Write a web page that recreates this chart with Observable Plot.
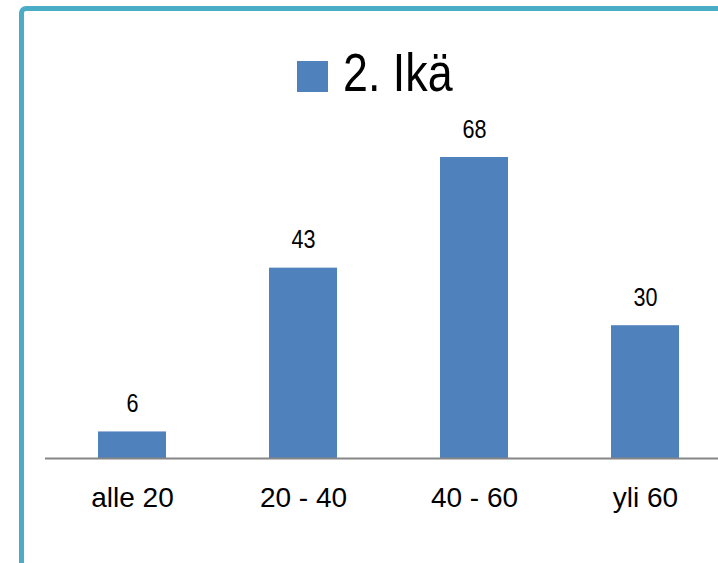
<!DOCTYPE html>
<html>
<head>
<meta charset="utf-8">
<script src="https://cdn.jsdelivr.net/npm/d3@7"></script>
<script src="https://cdn.jsdelivr.net/npm/@observablehq/plot@0.6"></script>
<style>
  html, body { margin: 0; padding: 0; background: #fff; overflow: hidden; }
  #page { position: relative; width: 718px; height: 563px; overflow: hidden; }
  #frame { position: absolute; left: 19px; top: 6px; width: 800px; height: 700px;
           border: 5px solid #4BACC6; border-radius: 7px; box-sizing: border-box; }
  #legend { position: absolute; left: 297px; top: 48px; height: 56px; display: flex; align-items: center;
            font-family: "Liberation Sans", Arial, sans-serif; font-size: 53px; color: #000; }
  #legend .sw { width: 31px; height: 31px; background: #4F81BD; margin-right: 15px; flex: none; }
  #ltext { display: inline-block; transform: scaleX(0.845); transform-origin: left center; position: relative; top: -4px; white-space: nowrap; }
  #chart { position: absolute; left: 0; top: 0; }
</style>
</head>
<body>
<div id="page">
  <div id="frame"></div>
  <div id="chart"></div>
  <div id="legend"><div class="sw"></div><span id="ltext"></span></div>
</div>
<script>
const seriesName = "2. Ikä";
const categories = ["alle 20", "20 - 40", "40 - 60", "yli 60"];
const values = [6, 43, 68, 30];

const data = categories.map((c, i) => ({cat: c, value: values[i]}));
document.getElementById("ltext").textContent = seriesName;

const plot = Plot.plot({
  width: 718,
  height: 563,
  marginLeft: 45,
  marginRight: 0,
  marginTop: 0,
  marginBottom: 0,
  style: {background: "transparent", overflow: "hidden"},
  x: {domain: categories, range: [45, 732], paddingInner: 0.6, paddingOuter: 0.3, axis: null},
  y: {domain: [0, 68], range: [458, 157], axis: null},
  marks: [
    Plot.barY(data, {x: "cat", y: "value", fill: "#4F81BD"}),
    Plot.ruleY([0], {stroke: "#868686", strokeWidth: 2}),
    Plot.text(data, {x: "cat", y: "value", text: d => String(d.value), dy: -28, className: "vlab",
      fontSize: 26, fill: "#000", fontFamily: "Liberation Sans, Arial, sans-serif"}),
    Plot.text(data, {x: "cat", y: 0, text: "cat", dy: 40,
      fontSize: 28, fill: "#000", fontFamily: "Liberation Sans, Arial, sans-serif"})
  ]
});
document.getElementById("chart").appendChild(plot);
// condense the value labels horizontally (narrow font look)
plot.querySelectorAll(".vlab text").forEach(t => {
  const tr = t.getAttribute("transform");
  if (tr) {
    t.setAttribute("transform", tr + " scale(0.83,1)");
  } else {
    const x = +t.getAttribute("x") || 0, y = +t.getAttribute("y") || 0;
    t.setAttribute("x", 0); t.setAttribute("y", 0);
    t.setAttribute("transform", `translate(${x},${y}) scale(0.83,1)`);
  }
});
</script>
</body>
</html>
